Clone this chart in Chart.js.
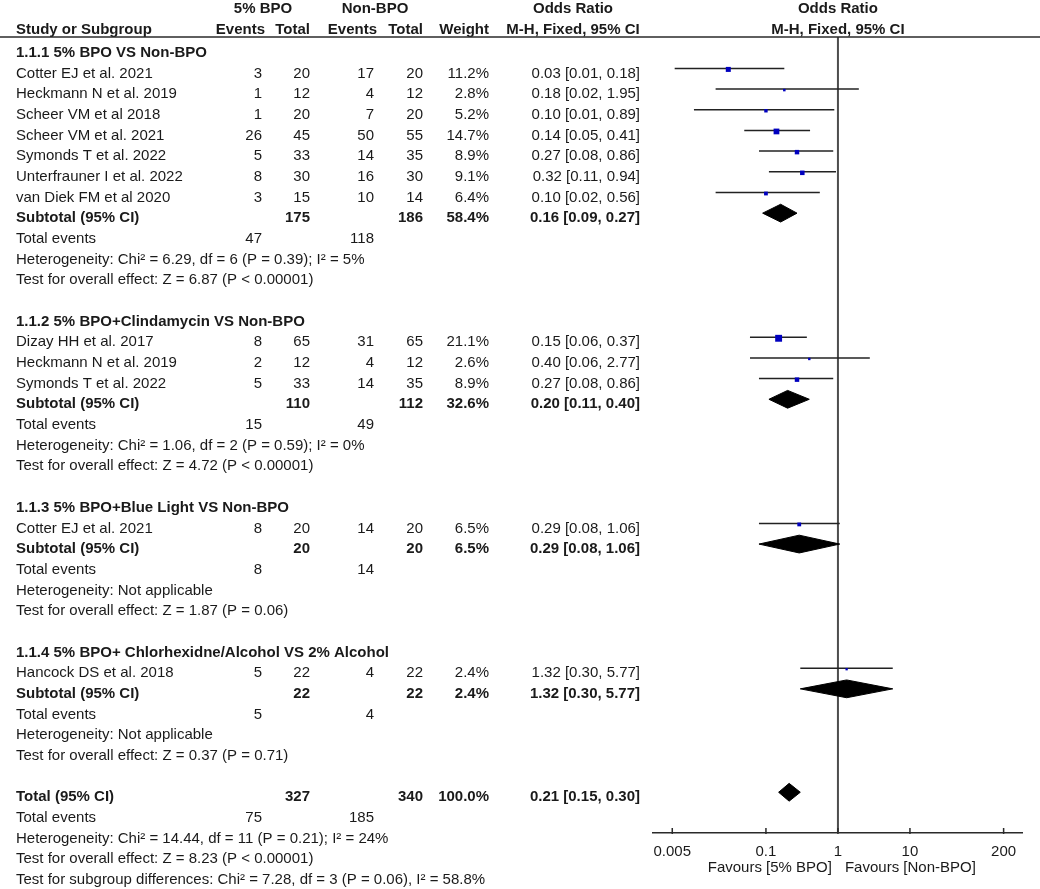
<!DOCTYPE html>
<html>
<head>
<meta charset="utf-8">
<script src="https://cdn.jsdelivr.net/npm/chart.js@4.4.1/dist/chart.umd.min.js"></script>
<style>
  html, body { margin: 0; padding: 0; background: #fff; }
  #wrap { width: 1040px; height: 889px; position: relative; }
</style>
</head>
<body>
<div id="wrap"><canvas id="forest"></canvas></div>
<script>
// Subgroups
const groupNames = [
  '1.1.1 5% BPO VS Non-BPO',
  '1.1.2 5% BPO+Clindamycin VS Non-BPO',
  '1.1.3 5% BPO+Blue Light VS Non-BPO',
  '1.1.4 5% BPO+ Chlorhexidne/Alcohol VS 2% Alcohol'
];

// Studies
const studyNames = [
  'Cotter EJ et al. 2021', 'Heckmann N et al. 2019', 'Scheer VM et al 2018', 'Scheer VM et al. 2021',
  'Symonds T et al. 2022', 'Unterfrauner I et al. 2022', 'van Diek FM et al 2020',
  'Dizay HH et al. 2017', 'Heckmann N et al. 2019', 'Symonds T et al. 2022',
  'Cotter EJ et al. 2021',
  'Hancock DS et al. 2018'
];
const studyGroup = [0, 0, 0, 0, 0, 0, 0, 1, 1, 1, 2, 3];
const bpoEvents = [3, 1, 1, 26, 5, 8, 3, 8, 2, 5, 8, 5];
const bpoTotal  = [20, 12, 20, 45, 33, 30, 15, 65, 12, 33, 20, 22];
const nonEvents = [17, 4, 7, 50, 14, 16, 10, 31, 4, 14, 14, 4];
const nonTotal  = [20, 12, 20, 55, 35, 30, 14, 65, 12, 35, 20, 22];
const weights   = [11.2, 2.8, 5.2, 14.7, 8.9, 9.1, 6.4, 21.1, 2.6, 8.9, 6.5, 2.4];
const oddsRatio = [0.03, 0.18, 0.10, 0.14, 0.27, 0.32, 0.10, 0.15, 0.40, 0.27, 0.29, 1.32];
const ciLow     = [0.0054, 0.02, 0.01, 0.05, 0.08, 0.11, 0.02, 0.06, 0.06, 0.08, 0.08, 0.30];
const ciHigh    = [0.18, 1.95, 0.89, 0.41, 0.86, 0.94, 0.56, 0.37, 2.77, 0.86, 1.06, 5.77];

// Subtotals
const subBpoTotal  = [175, 110, 20, 22];
const subNonTotal  = [186, 112, 20, 22];
const subWeight    = [58.4, 32.6, 6.5, 2.4];
const subOR        = [0.16, 0.20, 0.29, 1.32];
const subLow       = [0.09, 0.11, 0.08, 0.30];
const subHigh      = [0.27, 0.40, 1.06, 5.77];
const subBpoEvents = [47, 15, 8, 5];
const subNonEvents = [118, 49, 14, 4];
const subHetero = [
  'Heterogeneity: Chi\u00b2 = 6.29, df = 6 (P = 0.39); I\u00b2 = 5%',
  'Heterogeneity: Chi\u00b2 = 1.06, df = 2 (P = 0.59); I\u00b2 = 0%',
  'Heterogeneity: Not applicable',
  'Heterogeneity: Not applicable'
];
const subEffect = [
  'Test for overall effect: Z = 6.87 (P < 0.00001)',
  'Test for overall effect: Z = 4.72 (P < 0.00001)',
  'Test for overall effect: Z = 1.87 (P = 0.06)',
  'Test for overall effect: Z = 0.37 (P = 0.71)'
];

// Overall
const totBpoTotal = 327, totNonTotal = 340, totWeight = 100.0;
const totOR = 0.21, totLow = 0.15, totHigh = 0.30;
const totBpoEvents = 75, totNonEvents = 185;
const totHetero = 'Heterogeneity: Chi\u00b2 = 14.44, df = 11 (P = 0.21); I\u00b2 = 24%';
const totEffect = 'Test for overall effect: Z = 8.23 (P < 0.00001)';
const totSubgroup = 'Test for subgroup differences: Chi\u00b2 = 7.28, df = 3 (P = 0.06), I\u00b2 = 58.8%';

// Axis
const tickValues = [0.005, 0.1, 1, 10, 200];
const favourLeft = 'Favours [5% BPO]';
const favourRight = 'Favours [Non-BPO]';

// ---- row layout: one line per row, blank line between blocks ----
const rows = [];
let line = 0;
groupNames.forEach((g, gi) => {
  rows.push({ y: line++, kind: 'group', gi });
  studyGroup.forEach((sg, si) => {
    if (sg === gi) rows.push({ y: line++, kind: 'study', si });
  });
  rows.push({ y: line++, kind: 'subtotal', gi });
  rows.push({ y: line++, kind: 'events', gi });
  rows.push({ y: line++, kind: 'text', text: subHetero[gi] });
  rows.push({ y: line++, kind: 'text', text: subEffect[gi] });
  line++;
});
rows.push({ y: line++, kind: 'total' });
rows.push({ y: line++, kind: 'totevents' });
rows.push({ y: line++, kind: 'text', text: totHetero });
rows.push({ y: line++, kind: 'text', text: totEffect });
rows.push({ y: line++, kind: 'text', text: totSubgroup });

const yMin = -0.517, yMax = 37.97;
const diamondHalf = 0.43;
const textDrop = 5;
const FONT = '"Liberation Sans", Arial, sans-serif';

// ---- datasets ----
const datasets = [];
datasets.push({
  type: 'line', order: 10,
  data: [{ x: 1, y: yMin }, { x: 1, y: yMax }],
  borderColor: '#4d4d4d', borderWidth: 2, pointRadius: 0
});
const studyRows = rows.filter(r => r.kind === 'study');
studyRows.forEach(r => {
  datasets.push({
    type: 'line', order: 5,
    data: [{ x: ciLow[r.si], y: r.y }, { x: ciHigh[r.si], y: r.y }],
    borderColor: '#222', borderWidth: 1.5, pointRadius: 0
  });
});
datasets.push({
  type: 'scatter', order: 1,
  data: studyRows.map(r => ({ x: oddsRatio[r.si], y: r.y + 0.05 })),
  pointStyle: 'rect',
  pointRadius: studyRows.map(r => 1.5 * Math.sqrt(weights[r.si]) / Math.SQRT2),
  backgroundColor: '#0000bf', borderWidth: 0
});
function diamond(y, or, lo, hi) {
  return {
    type: 'line', order: 2,
    data: [
      { x: lo, y: y }, { x: or, y: y - diamondHalf }, { x: hi, y: y },
      { x: or, y: y + diamondHalf }, { x: lo, y: y }
    ],
    borderColor: '#000', backgroundColor: '#000', borderWidth: 1,
    fill: 'shape', pointRadius: 0, tension: 0
  };
}
rows.filter(r => r.kind === 'subtotal').forEach(r => {
  datasets.push(diamond(r.y, subOR[r.gi], subLow[r.gi], subHigh[r.gi]));
});
rows.filter(r => r.kind === 'total').forEach(r => {
  datasets.push(diamond(r.y, totOR, totLow, totHigh));
});

// ---- table text ----
const col = { name: 16, evA: 262, totA: 310, evB: 374, totB: 423, wt: 489, or: 640 };
const fmtOR = (o, l, h) => o.toFixed(2) + ' [' + l.toFixed(2) + ', ' + h.toFixed(2) + ']';

const tablePlugin = {
  id: 'tableText',
  afterDraw(chart) {
    const ctx = chart.ctx;
    const ys = chart.scales.y;
    const xs = chart.scales.x;
    const area = chart.chartArea;
    ctx.save();
    ctx.fillStyle = '#1a1a1a';
    ctx.textBaseline = 'middle';
    const put = (t, x, y, align, bold, lift) => {
      ctx.font = (bold ? 'bold ' : '') + '15px ' + FONT;
      ctx.textAlign = align;
      ctx.fillText(String(t), x, ys.getPixelForValue(y) + textDrop - (lift || 0));
    };

    // header (two lines above the first row, sitting on the rule)
    const one = xs.getPixelForValue(1);
    const hput = (t, x, y, align) => put(t, x, y, align, true, 2.5);
    hput('5% BPO', 263, -2, 'center');
    hput('Non-BPO', 375, -2, 'center');
    hput('Odds Ratio', 573, -2, 'center');
    hput('Odds Ratio', one, -2, 'center');
    hput('Study or Subgroup', col.name, -1, 'left');
    hput('Events', 265, -1, 'right');
    hput('Total', col.totA, -1, 'right');
    hput('Events', 377, -1, 'right');
    hput('Total', col.totB, -1, 'right');
    hput('Weight', col.wt, -1, 'right');
    hput('M-H, Fixed, 95% CI', 573, -1, 'center');
    hput('M-H, Fixed, 95% CI', one, -1, 'center');

    rows.forEach(r => {
      if (r.kind === 'group') {
        put(groupNames[r.gi], col.name, r.y, 'left', true);
      } else if (r.kind === 'study') {
        const i = r.si;
        put(studyNames[i], col.name, r.y, 'left');
        put(bpoEvents[i], col.evA, r.y, 'right');
        put(bpoTotal[i], col.totA, r.y, 'right');
        put(nonEvents[i], col.evB, r.y, 'right');
        put(nonTotal[i], col.totB, r.y, 'right');
        put(weights[i].toFixed(1) + '%', col.wt, r.y, 'right');
        put(fmtOR(oddsRatio[i], ciLow[i], ciHigh[i]), col.or, r.y, 'right');
      } else if (r.kind === 'subtotal') {
        const g = r.gi;
        put('Subtotal (95% CI)', col.name, r.y, 'left', true);
        put(subBpoTotal[g], col.totA, r.y, 'right', true);
        put(subNonTotal[g], col.totB, r.y, 'right', true);
        put(subWeight[g].toFixed(1) + '%', col.wt, r.y, 'right', true);
        put(fmtOR(subOR[g], subLow[g], subHigh[g]), col.or, r.y, 'right', true);
      } else if (r.kind === 'events') {
        put('Total events', col.name, r.y, 'left');
        put(subBpoEvents[r.gi], col.evA, r.y, 'right');
        put(subNonEvents[r.gi], col.evB, r.y, 'right');
      } else if (r.kind === 'total') {
        put('Total (95% CI)', col.name, r.y, 'left', true);
        put(totBpoTotal, col.totA, r.y, 'right', true);
        put(totNonTotal, col.totB, r.y, 'right', true);
        put(totWeight.toFixed(1) + '%', col.wt, r.y, 'right', true);
        put(fmtOR(totOR, totLow, totHigh), col.or, r.y, 'right', true);
      } else if (r.kind === 'totevents') {
        put('Total events', col.name, r.y, 'left');
        put(totBpoEvents, col.evA, r.y, 'right');
        put(totNonEvents, col.evB, r.y, 'right');
      } else {
        put(r.text, col.name, r.y, 'left');
      }
    });

    // header rule
    ctx.strokeStyle = '#2a2a2a';
    ctx.lineWidth = 1.5;
    ctx.beginPath();
    ctx.moveTo(0, area.top);
    ctx.lineTo(chart.width, area.top);
    ctx.stroke();

    // tick marks rising from the axis
    ctx.beginPath();
    xs.ticks.forEach(t => {
      const px = xs.getPixelForValue(t.value);
      ctx.moveTo(px, area.bottom - 5);
      ctx.lineTo(px, area.bottom + 1);
    });
    ctx.stroke();

    // favours labels
    ctx.font = '15px ' + FONT;
    ctx.textAlign = 'right';
    ctx.fillText(favourLeft, one - 6, area.bottom + 35);
    ctx.textAlign = 'left';
    ctx.fillText(favourRight, one + 7, area.bottom + 35);
    ctx.restore();
  }
};

Chart.defaults.font.family = FONT;

new Chart(document.getElementById('forest').getContext('2d'), {
  data: { datasets },
  options: {
    responsive: true,
    maintainAspectRatio: false,
    animation: false,
    layout: { padding: { left: 653, right: 18, top: 37, bottom: 30 } },
    plugins: { legend: { display: false }, tooltip: { enabled: false } },
    scales: {
      x: {
        type: 'logarithmic',
        position: 'bottom',
        min: 0.0027,
        max: 360,
        afterBuildTicks: scale => { scale.ticks = tickValues.map(v => ({ value: v })); },
        afterFit: scale => { scale.height = 26; },
        grid: { display: false, drawTicks: false },
        border: { display: true, color: '#2a2a2a', width: 1.5 },
        ticks: {
          autoSkip: false,
          maxRotation: 0,
          padding: 10,
          color: '#1a1a1a',
          font: { size: 15 },
          callback: v => String(v)
        }
      },
      y: {
        type: 'linear',
        reverse: true,
        min: yMin,
        max: yMax,
        display: false
      }
    }
  },
  plugins: [tablePlugin]
});
</script>
</body>
</html>
